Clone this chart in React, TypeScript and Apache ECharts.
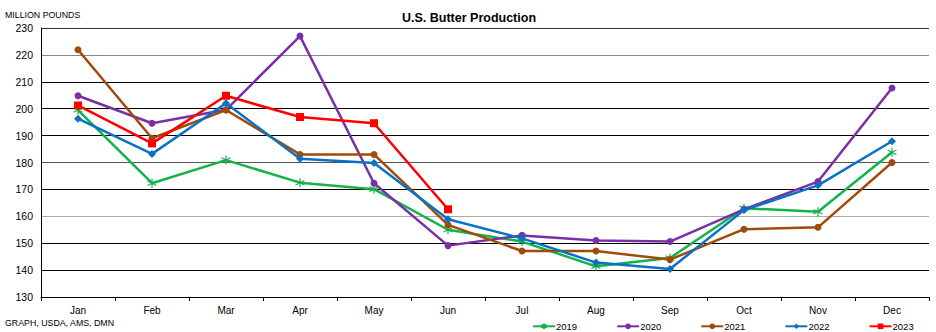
import React, { useEffect, useRef } from "react";
import * as echarts from "echarts";

const months = ["Jan", "Feb", "Mar", "Apr", "May", "Jun", "Jul", "Aug", "Sep", "Oct", "Nov", "Dec"];
const yr2019 = [199.5, 172.3, 180.9, 172.5, 170.1, 155.0, 150.6, 141.4, 144.5, 163.0, 161.7, 183.8];
const yr2020 = [204.8, 194.6, 199.6, 227.0, 172.3, 149.1, 152.9, 151.0, 150.6, 162.6, 172.9, 207.7];
const yr2021 = [221.9, 189.0, 199.5, 183.0, 183.0, 156.8, 147.1, 147.1, 143.9, 155.2, 155.9, 180.0];
const yr2022 = [196.3, 183.2, 202.0, 181.4, 179.8, 158.9, 151.8, 142.8, 140.4, 162.3, 171.5, 187.9];
const yr2023 = [201.2, 187.1, 204.8, 196.9, 194.6, 162.6];

const asterisk = "path://M5,0 L5,10 M0.7,2.5 L9.3,7.5 M0.7,7.5 L9.3,2.5";

export default function App() {
  const ref = useRef<HTMLDivElement>(null);
  useEffect(() => {
    if (!ref.current) return;
    const chart = echarts.init(ref.current, null, { renderer: "svg" });
    const font = "'Liberation Sans', Arial, sans-serif";
    const mk = (name: string, data: number[], color: string, symbol: string, size: number, extra: any = {}) => ({
      name,
      type: "line",
      data,
      symbol,
      symbolSize: size,
      showSymbol: true,
      lineStyle: { color, width: 2.5 },
      itemStyle: { color, ...extra },
      z: 2,
    });
    chart.setOption({
      animation: false,
      textStyle: { fontFamily: font },
      title: {
        text: "U.S. Butter Production",
        left: 464,
        textAlign: "center",
        top: 6,
        textStyle: { fontSize: 12.5, fontWeight: "bold", color: "#000", fontFamily: font },
      },
      graphic: [
        { type: "text", left: 5, top: 10, style: { text: "MILLION POUNDS", fontSize: 8.8, fill: "#000", fontFamily: font } },
        { type: "text", left: 5, top: 318, style: { text: "GRAPH, USDA, AMS, DMN", fontSize: 8.8, fill: "#000", fontFamily: font } },
      ],
      legend: {
        left: 527,
        top: 316,
        itemWidth: 22,
        itemHeight: 7,
        itemGap: 39,
        textStyle: { fontSize: 9.5, color: "#000", fontFamily: font, padding: [0, 0, 0, -4] },
        data: ["2019", "2020", "2021", "2022", "2023"],
      },
      grid: { left: 41, right: 7, top: 28, bottom: 35 },
      xAxis: {
        type: "category",
        data: months,
        boundaryGap: true,
        axisLine: { lineStyle: { color: "#000", width: 1 } },
        axisTick: { show: true, lineStyle: { color: "#000" }, length: 4 },
        axisLabel: { color: "#000", fontSize: 10, fontFamily: font, margin: 8 },
      },
      yAxis: {
        type: "value",
        min: 130,
        max: 230,
        interval: 10,
        axisLine: { show: true, lineStyle: { color: "#000", width: 1 } },
        axisTick: { show: false },
        axisLabel: { color: "#000", fontSize: 10.5, fontFamily: font, margin: 8 },
        splitLine: {
          lineStyle: {
            color: ["#000", "#000", "#000", "#aaa", "#000", "#555", "#000", "#000", "#000", "#888", "#333"],
            width: 1,
          },
        },
      },
      series: [
        mk("2019", yr2019, "#14b34a", asterisk, 9, { borderColor: "#14b34a", borderWidth: 1.2, color: "none" }),
        mk("2020", yr2020, "#7a2fa8", "circle", 7),
        mk("2021", yr2021, "#a04a0c", "circle", 7),
        mk("2022", yr2022, "#0a72c4", "diamond", 8),
        mk("2023", yr2023, "#ff0000", "rect", 8),
      ],
    });
    return () => chart.dispose();
  }, []);
  return <div ref={ref} style={{ position: "fixed", left: 0, top: 0, width: 936, height: 332, background: "#fff" }} />;
}
